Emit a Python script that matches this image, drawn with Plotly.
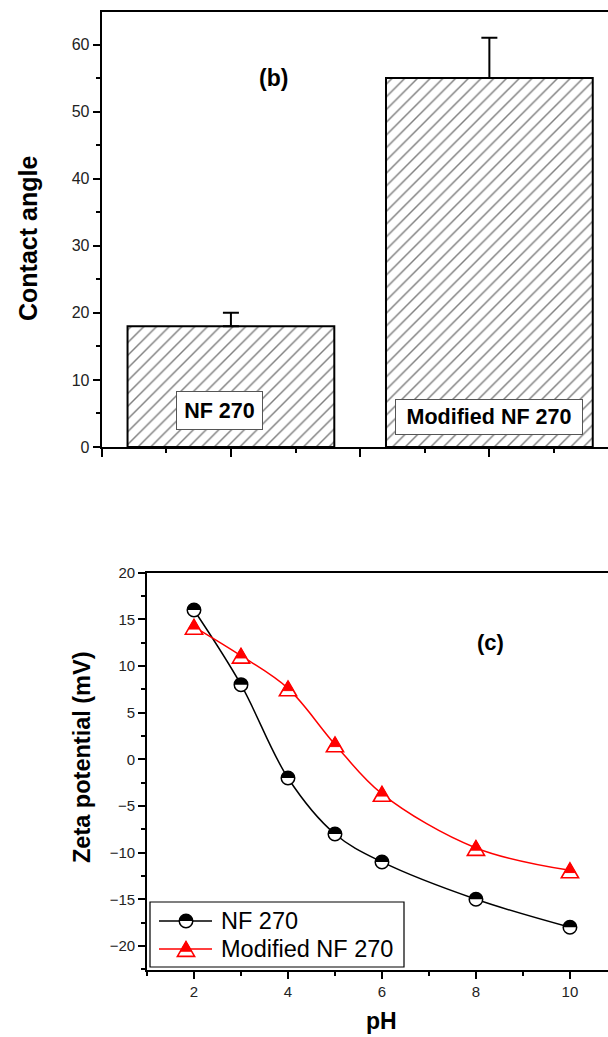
import plotly.graph_objects as go

W, H = 608, 1037

# ---------------- data ----------------
samples = ["NF 270", "Modified NF 270"]
contact_angle = [18, 55]
contact_err = [2, 6]

ph = [2, 3, 4, 5, 6, 8, 10]
zeta_nf = [16.0, 8.0, -2.0, -8.0, -11.0, -15.0, -18.0]
zeta_mod = [14.2, 11.1, 7.6, 1.6, -3.7, -9.5, -11.9]

y_ticks_b = [0, 10, 20, 30, 40, 50, 60]
x_ticks_c = [2, 4, 6, 8, 10]
y_ticks_c = [-20, -15, -10, -5, 0, 5, 10, 15, 20]

FONT = "Liberation Sans, Arial, sans-serif"
TICKCOL = "#222222"


def fx(px):
    return px / W


def fy(py):
    return 1 - py / H


fig = go.Figure()

# ---------------- (b) bar chart ----------------
bar_pos = list(range(1, len(samples) + 1))
fig.add_trace(go.Bar(
    x=bar_pos, y=contact_angle, width=0.8,
    marker=dict(color="white", line=dict(color="black", width=2),
                pattern=dict(shape="/", fgcolor="black", bgcolor="white",
                             size=9, solidity=0.16)),
    error_y=dict(type="data", symmetric=False, array=contact_err,
                 arrayminus=[0] * len(contact_err), color="black",
                 thickness=2, width=8),
    xaxis="x", yaxis="y", showlegend=False, hoverinfo="skip"))

# ---------------- (c) zeta potential ----------------
fig.add_trace(go.Scatter(
    x=ph, y=zeta_nf, mode="lines+markers", name="NF 270",
    line=dict(color="black", width=1.5, shape="spline", smoothing=1),
    marker=dict(symbol="circle", size=13.5, color="white",
                line=dict(color="black", width=1.5)),
    xaxis="x2", yaxis="y2", showlegend=False))
fig.add_trace(go.Scatter(
    x=ph, y=zeta_mod, mode="lines", name="Modified NF 270",
    line=dict(color="red", width=1.5, shape="spline", smoothing=1),
    xaxis="x2", yaxis="y2", showlegend=False))

shapes = []

R = 6.75
K = 0.5523 * R
half_disk = (f"M {-R},0 C {-R},{K:.2f} {-K:.2f},{R} 0,{R} "
             f"C {K:.2f},{R} {R},{K:.2f} {R},0 Z")
TW, TH, TF = 8.6, 7.4, 0.65


def circle_marker(xref, yref, xa, ya, with_base):
    out = []
    if with_base:
        out.append(dict(type="circle", xref=xref, yref=yref,
                        xsizemode="pixel", ysizemode="pixel",
                        xanchor=xa, yanchor=ya, x0=-R, x1=R, y0=-R, y1=R,
                        fillcolor="white", line=dict(color="black", width=1.5),
                        layer="above"))
    out.append(dict(type="path", xref=xref, yref=yref,
                    xsizemode="pixel", ysizemode="pixel",
                    xanchor=xa, yanchor=ya, path=half_disk,
                    fillcolor="black", line=dict(width=0), layer="above"))
    return out


def tri_marker(xref, yref, xa, ya):
    yb = TH - 2 * TH * TF
    return [
        dict(type="path", xref=xref, yref=yref,
             xsizemode="pixel", ysizemode="pixel", xanchor=xa, yanchor=ya,
             path=f"M 0,{TH} L {TW},{-TH} L {-TW},{-TH} Z",
             fillcolor="white", line=dict(color="red", width=1.6),
             layer="above"),
        dict(type="path", xref=xref, yref=yref,
             xsizemode="pixel", ysizemode="pixel", xanchor=xa, yanchor=ya,
             path=f"M 0,{TH} L {TW*TF:.2f},{yb:.2f} L {-TW*TF:.2f},{yb:.2f} Z",
             fillcolor="red", line=dict(color="red", width=1), layer="above"),
    ]


for xv, yv in zip(ph, zeta_nf):
    shapes += circle_marker("x2", "y2", xv, yv, False)
for xv, yv in zip(ph, zeta_mod):
    shapes += tri_marker("x2", "y2", xv, yv)

# ---------------- legend (drawn by hand) ----------------
shapes.append(dict(type="rect", xref="paper", yref="paper",
                   x0=fx(150), x1=fx(404), y0=fy(967), y1=fy(902),
                   line=dict(color="black", width=1.2), fillcolor="white",
                   layer="above"))
leg_rows = [(921, "black"), (949, "red")]
for (py, col) in leg_rows:
    shapes.append(dict(type="line", xref="paper", yref="paper",
                       x0=fx(159), x1=fx(212), y0=fy(py), y1=fy(py),
                       line=dict(color=col, width=1.5), layer="above"))
shapes += circle_marker("paper", "paper", fx(186), fy(921), True)
shapes += tri_marker("paper", "paper", fx(186), fy(949))


def ann(x, y, text, size, bold=False, xanchor="center", angle=0, **kw):
    d = dict(xref="paper", yref="paper", x=fx(x), y=fy(y),
             xanchor=xanchor, yanchor="middle", showarrow=False,
             textangle=angle, text=("<b>%s</b>" % text) if bold else text,
             font=dict(family=FONT, size=size, color="black"))
    d.update(kw)
    return d


annotations = []
for (py, _), name in zip(leg_rows, ["NF 270", "Modified NF 270"]):
    annotations.append(ann(219, py, name, 23.5, xanchor="left"))

# labels inside bars
annotations.append(ann(219.5, 410.5, samples[0], 21.5, bold=True,
                       bgcolor="white", bordercolor="#555555", borderwidth=1,
                       borderpad=1, width=83, height=35))
annotations.append(ann(489, 417, samples[1], 21.5, bold=True,
                       bgcolor="white", bordercolor="#555555", borderwidth=1,
                       borderpad=1, width=184, height=32))
# panel letters
annotations.append(ann(273, 78, "(b)", 23, bold=True))
annotations.append(ann(490, 642, "(c)", 22, bold=True))
# axis titles
annotations.append(ann(28, 239, "Contact angle", 25, bold=True, angle=-90))
annotations.append(ann(82, 757, "Zeta potential (mV)", 23.5, bold=True, angle=-90))
annotations.append(ann(381, 1021, "pH", 23, bold=True))

axis_common = dict(showgrid=False, zeroline=False, showline=True,
                   linecolor="black", ticks="outside", tickcolor="black",
                   color=TICKCOL)

fig.update_layout(
    width=W, height=H,
    margin=dict(l=0, r=0, t=0, b=0, autoexpand=False),
    paper_bgcolor="white", plot_bgcolor="white",
    font=dict(family=FONT, color=TICKCOL),
    showlegend=False,
    xaxis=dict(axis_common, domain=[fx(101.7), 1], range=[0.5, 2.459],
               anchor="y", linewidth=2, mirror=True, tickwidth=1.5, ticklen=8,
               tickmode="linear", tick0=0.5, dtick=0.5, showticklabels=False,
               minor=dict(ticks="outside", tick0=0.5, dtick=0.25, ticklen=4,
                          tickwidth=1.5, tickcolor="black")),
    yaxis=dict(axis_common, domain=[fy(447), fy(12.3)], range=[0, 64.8],
               anchor="x", linewidth=2, tickwidth=1.5, ticklen=7,
               tickmode="array", tickvals=y_ticks_b,
               tickfont=dict(family=FONT, size=16, color=TICKCOL),
               minor=dict(ticks="outside", dtick=5, ticklen=4,
                          tickwidth=1.5, tickcolor="black")),
    xaxis2=dict(axis_common, domain=[fx(147), 1], range=[1, 10.81],
                anchor="y2", linewidth=1.6, mirror=True, tickwidth=1.5, ticklen=7,
                tickmode="array", tickvals=x_ticks_c,
                tickfont=dict(family=FONT, size=15, color=TICKCOL),
                minor=dict(ticks="outside", tick0=1, dtick=1, ticklen=4,
                           tickwidth=1.5, tickcolor="black")),
    yaxis2=dict(axis_common, domain=[fy(970), fy(572.7)], range=[-22.58, 20],
                anchor="x2", linewidth=1.6, tickwidth=1.5, ticklen=7,
                tickmode="array", tickvals=y_ticks_c,
                tickfont=dict(family=FONT, size=15, color=TICKCOL),
                minor=dict(ticks="outside", tick0=0, dtick=2.5, ticklen=4,
                           tickwidth=1.5, tickcolor="black")),
    shapes=shapes,
    annotations=annotations,
)

fig.write_html("out.html")
